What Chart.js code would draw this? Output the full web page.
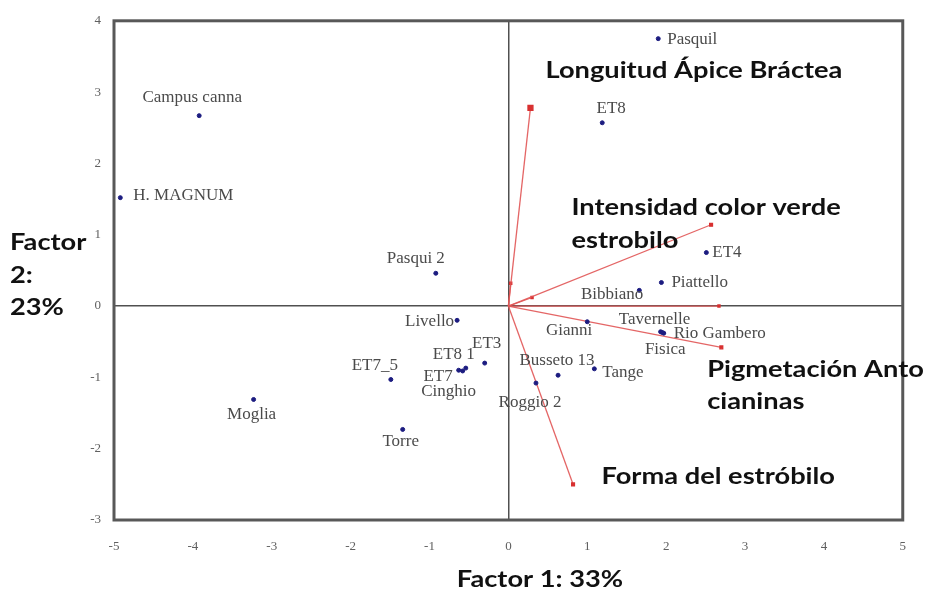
<!DOCTYPE html>
<html><head><meta charset="utf-8">
<script src="https://cdn.jsdelivr.net/npm/chart.js@4"></script>
<style>html,body{margin:0;padding:0;background:#fff}canvas{display:block}</style>
</head><body>
<canvas id="c" width="925" height="592"></canvas>
<script>
// ---- data ----
const cultivars = ["Pasquil","ET8","Campus canna","H. MAGNUM","Pasqui 2","ET4","Piattello","Bibbiano","Livello","ET3","ET8 1","ET7","Cinghio","ET7_5","Moglia","Torre","Gianni","Tavernelle","Rio Gambero","Fisica","Busseto 13","Tange","Roggio 2"];
const factor1 = [1.90, 1.19, -3.92, -4.92, -0.92, 2.51, 1.94, 1.66, -0.65, -0.30, -0.54, -0.63, -0.58, -1.49, -3.23, -1.34, 1.00, 1.93, 1.97, 1.95, 0.63, 1.09, 0.35];
const factor2 = [3.75, 2.57, 2.67, 1.52, 0.46, 0.75, 0.33, 0.22, -0.20, -0.80, -0.87, -0.90, -0.91, -1.03, -1.31, -1.73, -0.22, -0.36, -0.38, -0.37, -0.97, -0.88, -1.08];
const vectorNames = ["Longuitud Ápice Bráctea","Intensidad color verde estrobilo","Pigmetación Antocianinas","Forma del estróbilo","v5","v6","v7"];
const vectorF1 = [0.28, 2.57, 2.70, 0.82, 2.67, 0.03, 0.30];
const vectorF2 = [2.78, 1.14, -0.58, -2.50, 0.00, 0.32, 0.12];
const xTicks = [-5,-4,-3,-2,-1,0,1,2,3,4,5];
const yTicks = [-3,-2,-1,0,1,2,3,4];
const xTitle = "Factor 1: 33%";
const yTitleLines = ["Factor","2:","23%"];

// ---- label placement (style) ----
// [align, dx, dy]
const labelPlace = [
  ["left",9,1],["center",9,-14],["center",-7,-18],["left",13,-2],["center",-20,-15],
  ["left",6,0],["left",10,0],["right",4,4],["right",-3,1],["center",2,-20],
  ["right",9,-14],["right",-6,6],["center",-14,21],["center",-16,-14],["center",-2,15],
  ["center",-2,12],["right",5,9],["center",-6,-12],["left",10,0],["center",3,17],
  ["center",-1,-15],["left",8,4],["center",-6,19]
];
const vecLabelAnchor = [
  [[0.47,3.30]],
  [[0.80,1.38],[0.80,0.92]],
  [[2.52,-0.89],[2.52,-1.34]],
  [[1.18,-2.39]]
];
const vecLabelLines = [["Longuitud Ápice Bráctea"],["Intensidad color verde","estrobilo"],["Pigmetación Anto","cianinas"],["Forma del estróbilo"]];
const boldFont = 'bold 22px Lato, "Open Sans", sans-serif';
const serifFont = '17px "Liberation Serif", serif';

const pts = cultivars.map((n,i)=>({x:factor1[i],y:factor2[i]}));
const vecDatasets = vectorNames.map((n,i)=>({
  label:n, data:[{x:0,y:0},{x:vectorF1[i],y:vectorF2[i]}], showLine:true,
  borderColor:'rgba(225,85,85,0.9)', borderWidth:1.3,
  pointRadius: i===0 ? [0,3.5] : (i<4 ? [0,2] : [0,1.5]), pointStyle:'rect',
  pointBackgroundColor:'#d83030', pointBorderColor:'#d83030', order:2
}));

function stretchText(ctx, t, px, py, sx){
  ctx.save();
  ctx.translate(px, py); ctx.scale(sx, 1);
  ctx.fillText(t, 0, 0);
  ctx.restore();
}

const overlay = {
  id:'overlay',
  afterDatasetsDraw(chart){
    const {ctx, chartArea:a, scales:{x,y}} = chart;
    ctx.save();
    // frame
    ctx.strokeStyle='#585858'; ctx.lineWidth=3;
    ctx.strokeRect(a.left, a.top, a.right-a.left, a.bottom-a.top);
    // point labels
    ctx.font = serifFont;
    ctx.fillStyle = '#4a4a4a'; ctx.textBaseline='middle';
    cultivars.forEach((n,i)=>{
      const p = labelPlace[i];
      ctx.textAlign = p[0];
      ctx.fillText(n, x.getPixelForValue(factor1[i])+p[1], y.getPixelForValue(factor2[i])+p[2]);
    });
    // bold texts, stretched horizontally like the reference
    ctx.font = boldFont;
    ctx.fillStyle = '#111'; ctx.textAlign='left';
    const sx = 297 / ctx.measureText(vecLabelLines[0][0]).width;
    vecLabelLines.forEach((lines,i)=>{
      lines.forEach((t,j)=>{
        const an = vecLabelAnchor[i][j];
        stretchText(ctx, t, x.getPixelForValue(an[0]), y.getPixelForValue(an[1]), sx);
      });
    });
    // y title
    yTitleLines.forEach((t,j)=>stretchText(ctx, t, 10, 243 + j*32.5, sx));
    // x title
    const w = ctx.measureText(xTitle).width * sx;
    stretchText(ctx, xTitle, 540 - w/2, 580, sx);
    ctx.restore();
  }
};

new Chart(document.getElementById('c'), {
  type:'scatter',
  data:{datasets:[
    {label:'cultivars', data:pts, pointRadius:2, pointBackgroundColor:'#1c1c80', pointBorderColor:'#1c1c80', order:1},
    ...vecDatasets
  ]},
  options:{
    responsive:false, animation:false,
    layout:{padding:{top:18,right:21,left:0,bottom:0}},
    plugins:{legend:{display:false}, tooltip:{enabled:false}},
    scales:{
      x:{type:'linear', min:-5, max:5,
        afterBuildTicks(s){ s.ticks = xTicks.map(v=>({value:v})); },
        afterFit(s){ s.height = 72; },
        ticks:{font:{family:'"Liberation Serif", serif', size:13}, color:'#606060', padding:19},
        grid:{drawTicks:false, lineWidth:1.5, color:c=>c.tick && c.tick.value===0 ? '#505050' : 'rgba(0,0,0,0)'},
        border:{display:false}
      },
      y:{type:'linear', min:-3, max:4,
        afterBuildTicks(s){ s.ticks = yTicks.map(v=>({value:v})); },
        afterFit(s){ s.width = 114; },
        ticks:{font:{family:'"Liberation Serif", serif', size:13}, color:'#606060', padding:13},
        grid:{drawTicks:false, lineWidth:1.5, color:c=>c.tick && c.tick.value===0 ? '#505050' : 'rgba(0,0,0,0)'},
        border:{display:false}
      }
    }
  },
  plugins:[overlay]
});
</script>
</body></html>
